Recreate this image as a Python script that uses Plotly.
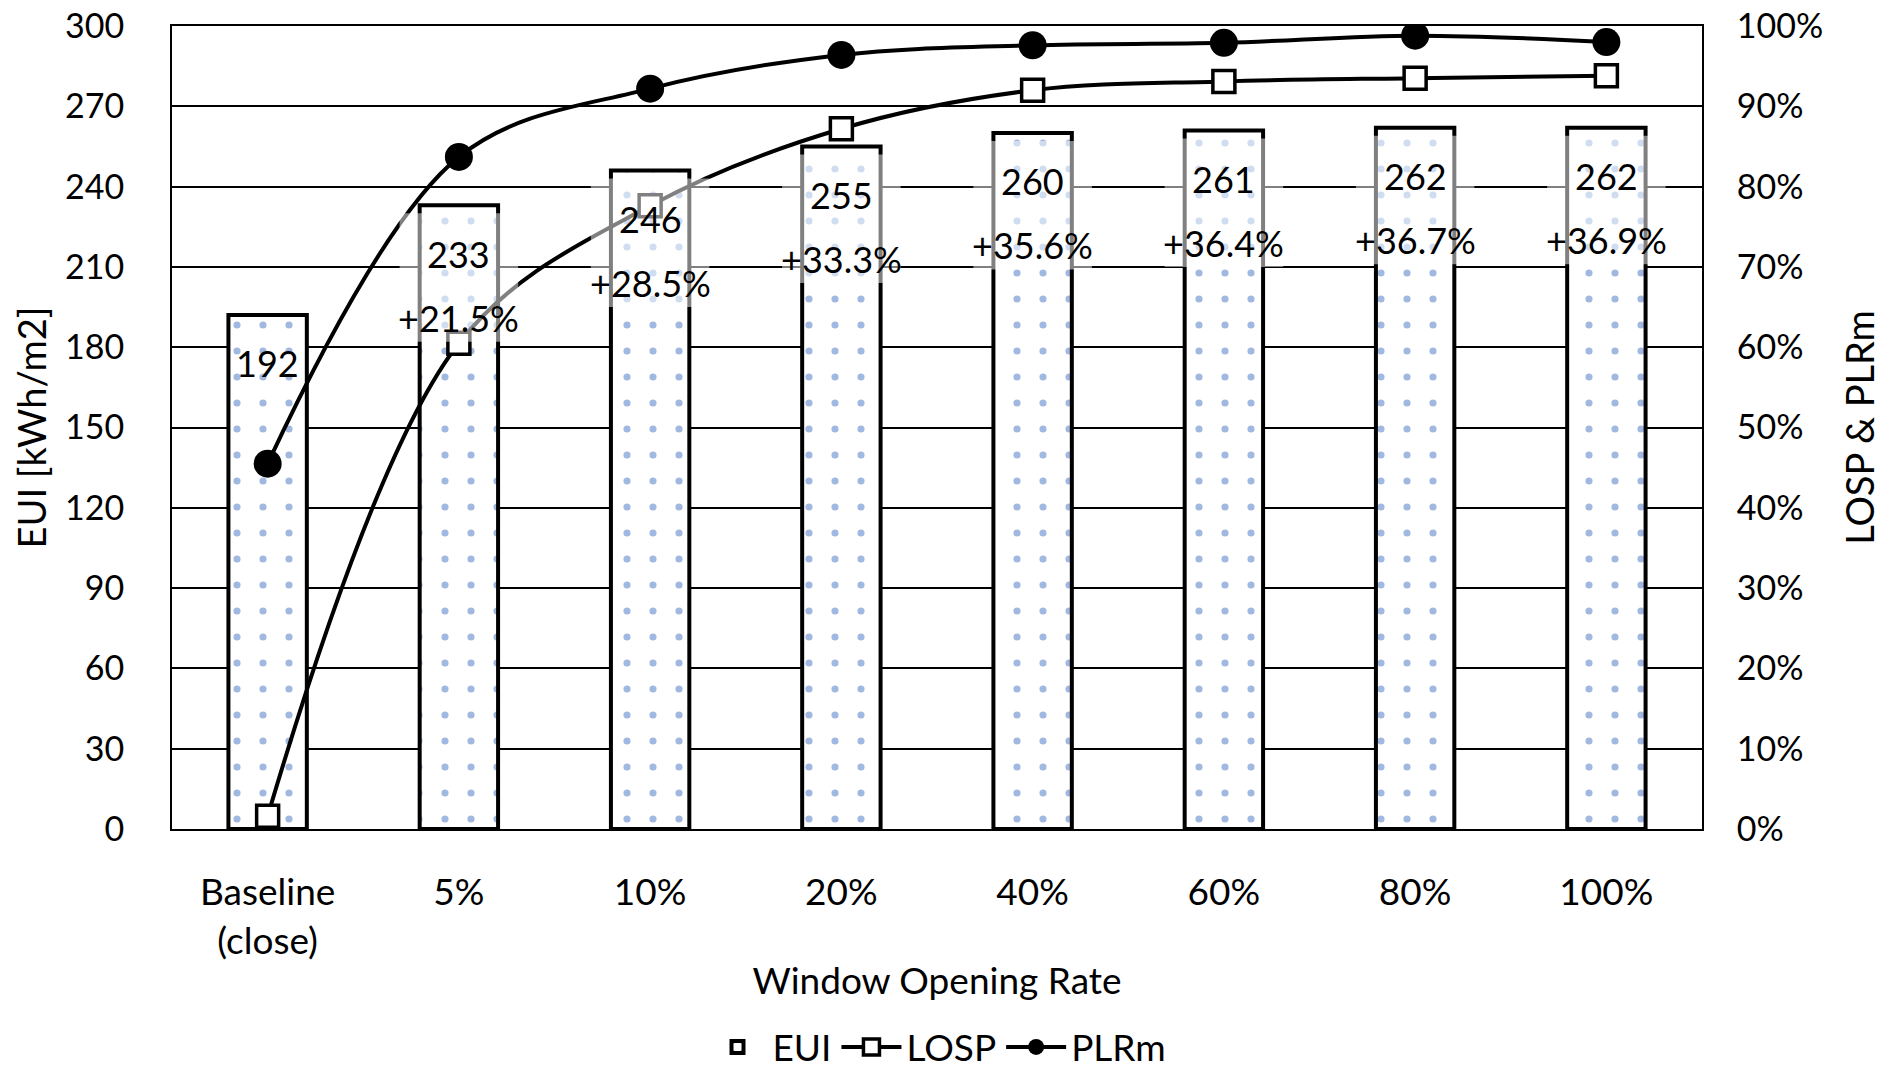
import plotly.graph_objects as go

# Window opening scenarios
categories = ["Baseline<br>(close)", "5%", "10%", "20%", "40%", "60%", "80%", "100%"]

# Energy use intensity per scenario [kWh/m2]
eui = [192, 233, 246, 255, 260, 261, 262, 262]
# Increase of EUI relative to the baseline [%]
eui_increase = [None, 21.5, 28.5, 33.3, 35.6, 36.4, 36.7, 36.9]

# Loss of set-point and part-load ratio (fractions)
losp = [0.016, 0.605, 0.776, 0.872, 0.920, 0.931, 0.935, 0.938]
plrm = [0.455, 0.837, 0.922, 0.964, 0.976, 0.979, 0.988, 0.980]

FONT = "Lato, Carlito, Calibri, sans-serif"
FS_TICK = 34
FS_LABEL = 36
FS_TITLE_Y = 38

fig = go.Figure()

fig.add_trace(go.Bar(
    x=categories, y=eui, name="EUI",
    marker=dict(
        color="white",
        line=dict(color="black", width=4),
        pattern=dict(shape=".", fgcolor="#4472C4", bgcolor="white",
                     size=26, solidity=0.06),
    ),
    yaxis="y",
))

fig.add_trace(go.Scatter(
    x=categories, y=losp, name="LOSP", yaxis="y2",
    mode="lines+markers",
    line=dict(color="black", width=4, shape="spline", smoothing=1.0),
    marker=dict(symbol="square", size=22, color="white",
                line=dict(color="black", width=3.5)),
))

fig.add_trace(go.Scatter(
    x=categories, y=plrm, name="PLRm", yaxis="y2",
    mode="lines+markers",
    line=dict(color="black", width=4, shape="spline", smoothing=1.0),
    marker=dict(symbol="circle", size=28, color="black"),
))

# Value labels inside the bars, with a translucent backing box
shapes = []
annotations = []
for i, (cat, v, inc) in enumerate(zip(categories, eui, eui_increase)):
    annotations.append(dict(
        x=cat, y=v - 18, xref="x", yref="y", text=str(v),
        showarrow=False, font=dict(family=FONT, size=FS_LABEL, color="black"),
    ))
    if inc is not None:
        shapes.append(dict(
            type="rect", xref="x", yref="y",
            x0=i - 0.31, x1=i + 0.31, y0=v - 51, y1=v - 3,
            fillcolor="rgba(255,255,255,0.5)", line=dict(width=0),
            layer="above",
        ))
        annotations.append(dict(
            x=cat, y=v - 42, xref="x", yref="y", text=f"+{inc:.1f}%",
            showarrow=False, font=dict(family=FONT, size=FS_LABEL, color="black"),
        ))

fig.update_layout(
    width=1882, height=1082,
    margin=dict(l=172, r=180, t=26, b=253, autoexpand=False),
    paper_bgcolor="white", plot_bgcolor="white",
    font=dict(family=FONT, size=FS_TICK, color="black"),
    bargap=0.59,
    showlegend=True,
    legend=dict(orientation="h", x=0.5, xanchor="center",
                yref="paper", y=-0.272, yanchor="middle",
                font=dict(family=FONT, size=37), itemwidth=60,
                tracegroupgap=0),
    xaxis=dict(
        title=dict(text="Window Opening Rate", standoff=8,
                   font=dict(family=FONT, size=37)),
        tickfont=dict(size=37),
        showline=True, linecolor="black", linewidth=2, mirror=True,
        ticks="", showgrid=False, ticklabelstandoff=30,
    ),
    yaxis=dict(
        title=dict(text="EUI [kWh/m2]", standoff=7,
                   font=dict(size=FS_TITLE_Y)),
        range=[0, 300], dtick=30, tick0=0,
        showgrid=True, gridcolor="black", gridwidth=2,
        showline=True, linecolor="black", linewidth=2,
        zeroline=False, ticks="", ticklabelstandoff=39,
    ),
    yaxis2=dict(
        title=dict(text="LOSP & PLRm", standoff=25,
                   font=dict(size=FS_TITLE_Y)),
        overlaying="y", side="right",
        range=[0, 1], dtick=0.1, tick0=0, tickformat=".0%",
        showgrid=False, showline=True, linecolor="black", linewidth=2,
        zeroline=False, ticks="", ticklabelstandoff=26,
    ),
    shapes=shapes,
    annotations=annotations,
)

fig.write_html("out.html")
